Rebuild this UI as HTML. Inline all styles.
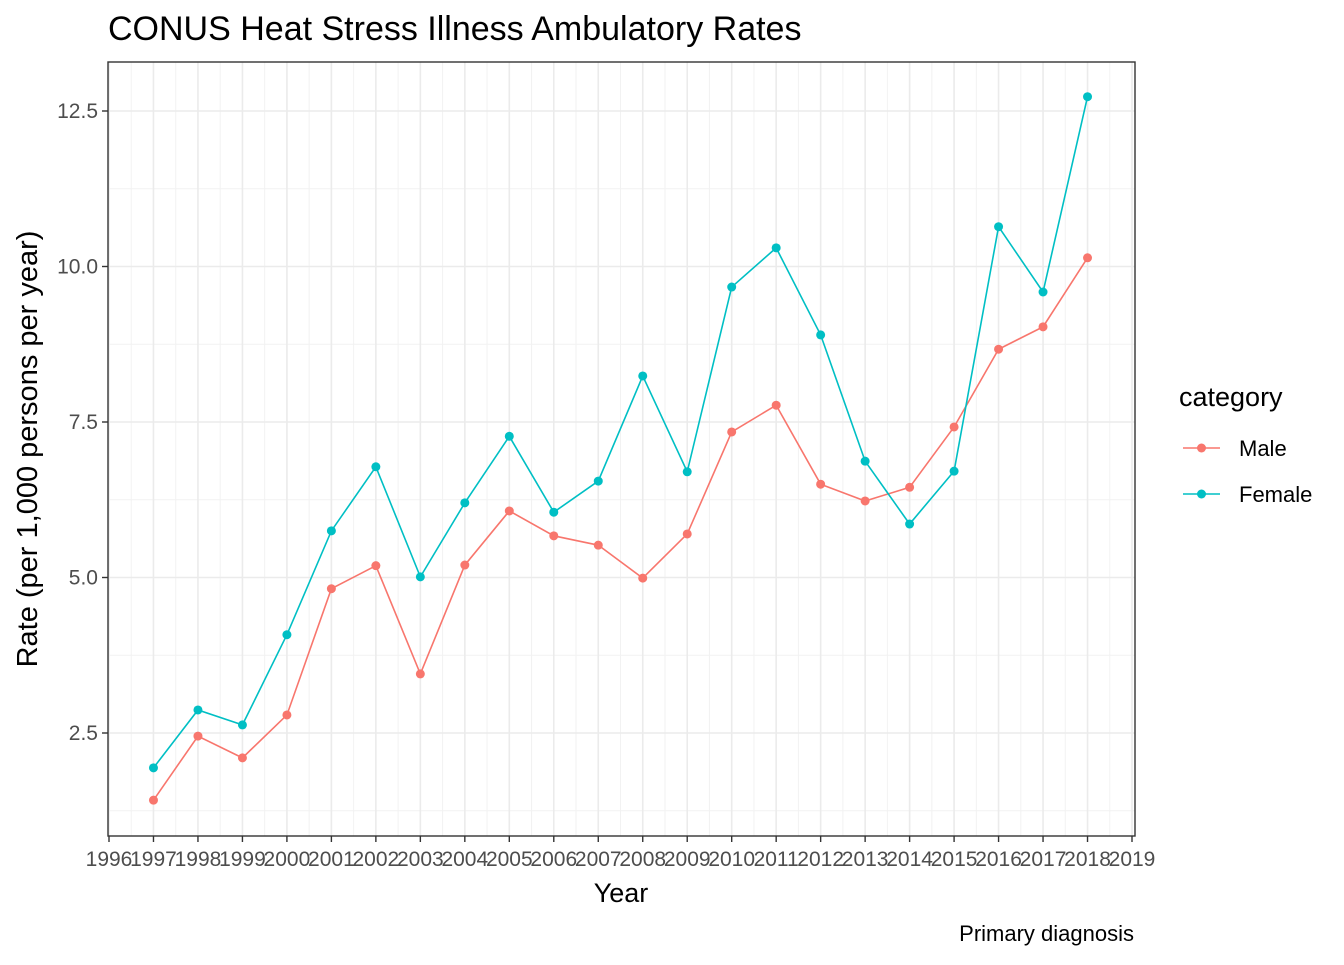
<!DOCTYPE html>
<html><head><meta charset="utf-8"><style>
body{margin:0;background:#fff;font-family:"Liberation Sans",Arial,sans-serif}
svg text{font-family:"Liberation Sans",Arial,sans-serif}
</style></head><body>
<svg id="chart" width="1344" height="960">
<text x="108" y="40" font-size="34" fill="#000">CONUS Heat Stress Illness Ambulatory Rates</text>
<g id="grid"></g><g id="series"></g><g id="axes"></g>
<text x="621" y="902" font-size="27" text-anchor="middle">Year</text>
<text transform="translate(37,449) rotate(-90)" font-size="29" text-anchor="middle">Rate (per 1,000 persons per year)</text>
<text x="1134" y="941" font-size="22" text-anchor="end">Primary diagnosis</text>
<g>
<text x="1179" y="406" font-size="27">category</text>
<g><line x1="1183" x2="1220" y1="448" y2="448" stroke="#F8766D" stroke-width="1.6"/><circle cx="1201.5" cy="448" r="4.5" fill="#F8766D"/><text x="1239" y="456" font-size="22">Male</text></g>
<g><line x1="1183" x2="1220" y1="494" y2="494" stroke="#00BFC4" stroke-width="1.6"/><circle cx="1201.5" cy="494" r="4.5" fill="#00BFC4"/><text x="1239" y="502" font-size="22">Female</text></g>
</g>
</svg>
<script>
const years=[1997,1998,1999,2000,2001,2002,2003,2004,2005,2006,2007,2008,2009,2010,2011,2012,2013,2014,2015,2016,2017,2018];
const male=[1.42,2.45,2.10,2.79,4.82,5.19,3.45,5.20,6.07,5.67,5.52,4.99,5.70,7.34,7.77,6.50,6.23,6.45,7.42,8.67,9.03,10.14];
const female=[1.94,2.87,2.63,4.08,5.75,6.78,5.01,6.20,7.27,6.05,6.55,8.24,6.70,9.67,10.30,8.90,6.87,5.86,6.71,10.64,9.59,12.73];
const yTicks=[2.5,5.0,7.5,10.0,12.5];
const yTickLabels=["2.5","5.0","7.5","10.0","12.5"];
const xTicks=[1996,1997,1998,1999,2000,2001,2002,2003,2004,2005,2006,2007,2008,2009,2010,2011,2012,2013,2014,2015,2016,2017,2018,2019];
const NS="http://www.w3.org/2000/svg";
const L=108,R=1135,T=62,B=836;
const X=v=>109+(v-1996)*(1132-109)/23;
const Y=v=>111+(12.5-v)*62.2;
function mk(tag,attrs,parent){const e=document.createElementNS(NS,tag);for(const k in attrs)e.setAttribute(k,attrs[k]);parent.appendChild(e);return e;}
const g=document.getElementById('grid'),s=document.getElementById('series'),a=document.getElementById('axes');
for(let i=0;i<xTicks.length-1;i++){const l=mk('line',{x1:X(xTicks[i]+0.5),x2:X(xTicks[i]+0.5),y1:T,y2:B,stroke:'#f2f2f2','stroke-width':1},g);}
for(let v=1.25;v<13.3;v+=2.5){const l=mk('line',{x1:L,x2:R,y1:Y(v),y2:Y(v),stroke:'#f2f2f2','stroke-width':1},g);}
xTicks.forEach(t=>{const l=mk('line',{x1:X(t),x2:X(t),y1:T,y2:B,stroke:'#ebebeb','stroke-width':1.6},g);});
yTicks.forEach(t=>{const l=mk('line',{x1:L,x2:R,y1:Y(t),y2:Y(t),stroke:'#ebebeb','stroke-width':1.6},g);});
function series(vals,col,name){
 const p=mk('polyline',{points:years.map((y,i)=>X(y)+','+Y(vals[i])).join(' '),fill:'none',stroke:col,'stroke-width':1.6},s);
 
 years.forEach((y,i)=>{const c=mk('circle',{cx:X(y),cy:Y(vals[i]),r:4.5,fill:col},s);});
}
series(male,'#F8766D','male');
series(female,'#00BFC4','female');
const fr=mk('rect',{x:L,y:T,width:R-L,height:B-T,fill:'none',stroke:'#333','stroke-width':1.4},a);

yTicks.forEach((t,i)=>{mk('line',{x1:L-6,x2:L,y1:Y(t),y2:Y(t),stroke:'#333','stroke-width':1.4},a);
 const tx=mk('text',{x:L-10,y:Y(t)+7,'font-size':21,'text-anchor':'end',fill:'#4d4d4d'},a);tx.textContent=yTickLabels[i];
 });
xTicks.forEach(t=>{mk('line',{x1:X(t),x2:X(t),y1:B,y2:B+6,stroke:'#333','stroke-width':1.4},a);
 const tx=mk('text',{x:X(t),y:B+30,'font-size':21,'text-anchor':'middle',fill:'#4d4d4d'},a);tx.textContent=t;
 });
</script>
</body></html>
